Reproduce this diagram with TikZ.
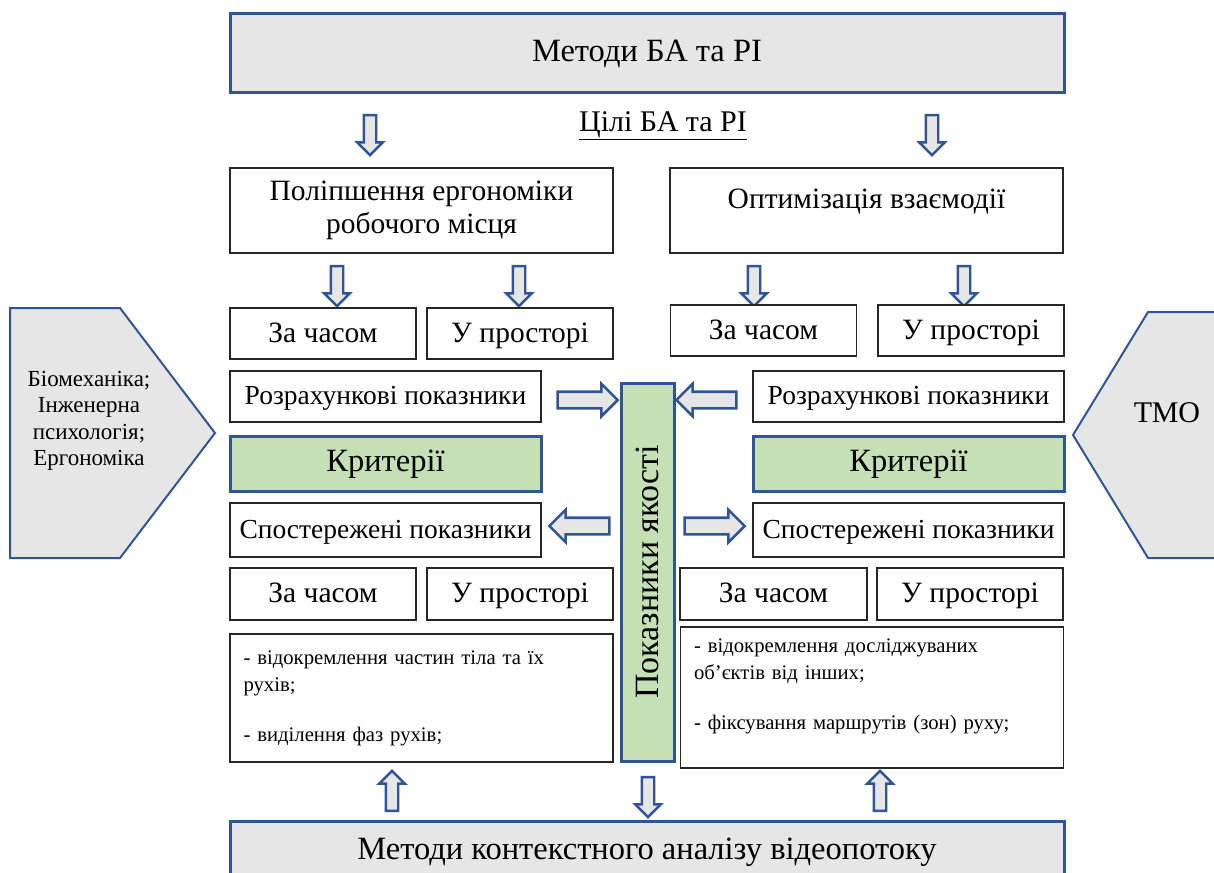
\documentclass[tikz,border=0pt]{standalone}
\usepackage{fontspec}
\setmainfont{Liberation Serif}
\usepackage{tikz}
\usetikzlibrary{arrows.meta, positioning, calc, shapes.arrows}
\definecolor{frameblue}{RGB}{47,85,151}
\definecolor{boxgray}{RGB}{231,230,230}
\definecolor{softgreen}{RGB}{197,224,180}

\tikzset{
  plainbox/.style={draw=black!85, line width=1.3pt, fill=white, minimum height=51pt,
    inner sep=0pt, text height=21pt, text depth=5pt, font=\fontsize{27.5}{32}\selectfont},
  timebox/.style={plainbox, minimum width=186pt, text height=22pt, text depth=5pt,
    font=\fontsize{29.5}{34}\selectfont},
  headbox/.style={draw=frameblue, line width=3pt, fill=boxgray, minimum width=834pt,
    inner sep=0pt, font=\fontsize{32.5}{38}\selectfont},
  critbox/.style={draw=frameblue, line width=3pt, fill=softgreen, minimum width=311pt,
    minimum height=55pt, inner sep=0pt, text height=22pt, text depth=7pt,
    font=\fontsize{32.5}{38}\selectfont},
  listbox/.style={draw=black!85, line width=1.3pt, fill=white, inner sep=0pt,
    minimum width=383pt, text width=356pt, align=left, font=\fontsize{20.7}{27.5}\selectfont},
  sidebox/.style={draw=frameblue, line width=2pt, fill=boxgray},
  vdown/.style={single arrow, draw=frameblue, line width=2.4pt, fill=boxgray,
    minimum height=40pt, inner xsep=0pt, inner ysep=5pt, single arrow head extend=6.5pt,
    rotate=-90},
  vup/.style={vdown, rotate=180},
  hright/.style={single arrow, draw=frameblue, line width=2.6pt, fill=boxgray,
    minimum height=60pt, inner xsep=0pt, inner ysep=7pt, single arrow head extend=8pt},
  hleft/.style={hright, rotate=180}
}

\begin{document}
\begin{tikzpicture}[x=1pt, y=-1pt]
  \useasboundingbox (0,0) rectangle (1214,872);
  \clip (0,0) rectangle (1214,872);

  % top and bottom
  \node[headbox, minimum height=79pt] (methods) at (647,53.5) {Методи БА та РІ};
  \node[headbox, minimum height=80pt] (video) at (647,861) {};
  \node[font=\fontsize{32.5}{38}\selectfont] (videotext) at (647,852) {Методи контекстного аналізу відеопотоку};
  \node[font=\fontsize{30}{34}\selectfont] (goals) at (663,126) {\underline{Цілі БА та РІ}};

  % goals
  \node[plainbox, minimum width=383pt, minimum height=85pt, align=center, text height=,
    text depth=, font=\fontsize{29.5}{33}\selectfont] (ergo) at (421.5,210.5)
    {Поліпшення ергономіки\\робочого місця};
  \node[plainbox, minimum width=393pt, minimum height=85pt, align=center, text height=,
    text depth=, font=\fontsize{29.5}{33}\selectfont] (optim) at (866.5,210.5)
    {Оптимізація взаємодії\\[-10pt]\mbox{}};
  \node[vdown] (a1) at (370,132) {};
  \node[vdown] (a2) at (932,132) {};
  \node[vdown] (a3) at (337,283) {};
  \node[vdown] (a4) at (519,283) {};
  \node[vdown] (a5) at (754,283) {};
  \node[vdown] (a6) at (964,283) {};

  % upper time / space
  \node[timebox] (timeLa) at (323,333.5) {За часом};
  \node[timebox] (spaceLa) at (520,333.5) {У просторі};
  \node[timebox] (timeRa) at (763.5,330.5) {За часом};
  \node[timebox] (spaceRa) at (971,330.5) {У просторі};

  % indicators and criteria
  \node[plainbox, minimum width=311pt] (calcL) at (385.5,396.5) {Розрахункові показники};
  \node[plainbox, minimum width=311pt] (calcR) at (908.5,396.5) {Розрахункові показники};
  \node[critbox] (critL) at (385.5,463.5) {Критерії};
  \node[critbox] (critR) at (908.5,463.5) {Критерії};
  \node[plainbox, minimum width=311pt, minimum height=54pt] (obsL) at (385.5,530) {Спостережені показники};
  \node[plainbox, minimum width=311pt, minimum height=54pt] (obsR) at (908.5,530) {Спостережені показники};

  \node[critbox, minimum width=378pt, minimum height=53pt, rotate=90, text height=,
    text depth=, font=\fontsize{34}{38}\selectfont] (quality) at (647.5,572) {Показники якості};
  \node[hright] (h1) at (583.5,400) {};
  \node[hleft] (h2) at (710.5,400) {};
  \node[hleft] (h3) at (583.5,526) {};
  \node[hright] (h4) at (710.5,526) {};

  % lower time / space
  \node[timebox, minimum height=52pt] (timeLb) at (323,594) {За часом};
  \node[timebox, minimum height=52pt] (spaceLb) at (520,594) {У просторі};
  \node[timebox, minimum width=187pt, minimum height=52pt] (timeRb) at (773.5,594) {За часом};
  \node[timebox, minimum height=52pt] (spaceRb) at (970,594) {У просторі};

  \node[listbox, minimum height=128pt] (listL) at (421.5,698)
    {- відокремлення частин тіла та їх\\рухів;\\[22pt]- виділення фаз рухів;};
  \node[listbox, minimum height=141pt] (listR) at (872,697.5)
    {- відокремлення досліджуваних\\об’єктів від інших;\\[22pt]- фіксування маршрутів (зон) руху;\\\mbox{}};

  \node[vup] (u1) at (392,794) {};
  \node[vdown] (d1) at (648,794) {};
  \node[vup] (u2) at (880,794) {};

  % side blocks
  \draw[sidebox] (10,308) -- (120,308) -- (215,433) -- (120,558) -- (10,558) -- cycle;
  \node[align=center, font=\fontsize{23}{26.5}\selectfont] (bio) at (89,421)
    {Біомеханіка;\\Інженерна\\психологія;\\Ергономіка};
  \draw[sidebox] (1230,312) -- (1148,312) -- (1073,435) -- (1148,558) -- (1230,558);
  \node[font=\fontsize{30}{34}\selectfont] (tmo) at (1167,413) {ТМО};
\end{tikzpicture}
\end{document}
